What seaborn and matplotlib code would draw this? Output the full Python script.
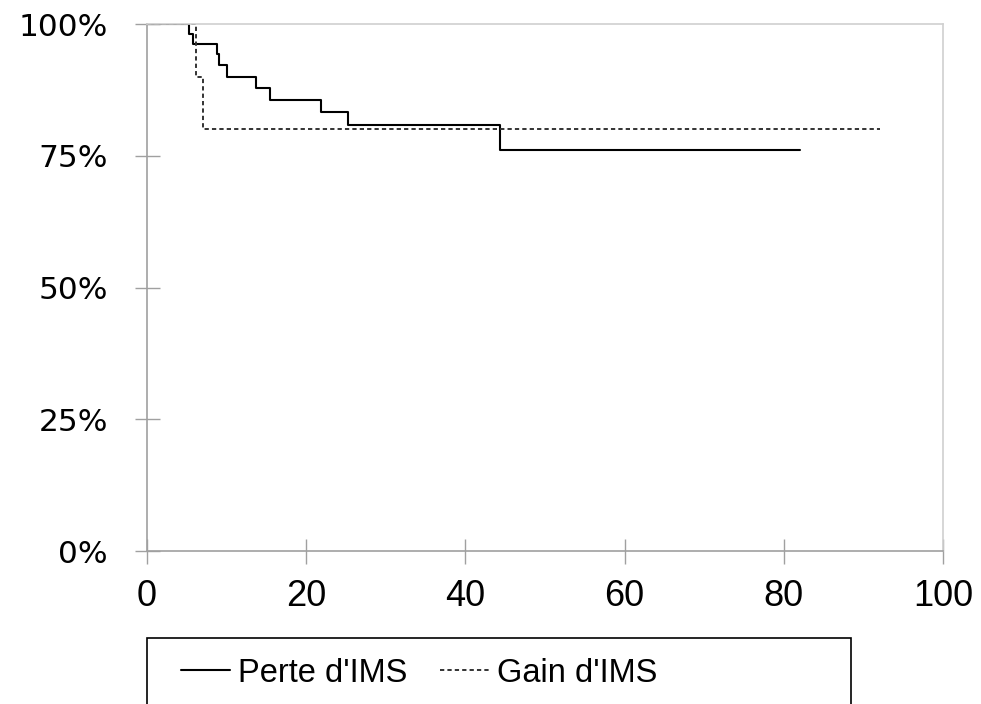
import numpy as np
import pandas as pd
import matplotlib
matplotlib.use("Agg")
import matplotlib.pyplot as plt
import seaborn as sns
from matplotlib.patches import Rectangle
from matplotlib.ticker import PercentFormatter

# Kaplan-Meier style curves
perte_time = [0, 5.3, 5.8, 8.75, 9.05, 10.0, 13.7, 15.45, 21.9, 25.3, 44.3, 82.0]
perte_surv = [100, 98.1, 96.2, 94.3, 92.3, 90.0, 87.9, 85.6, 83.3, 80.9, 76.1, 76.1]
gain_time = [0, 6.1, 7.1, 92.1]
gain_surv = [100, 90.0, 80.0, 80.0]
x_ticks = [0, 20, 40, 60, 80, 100]
y_ticks = [0, 25, 50, 75, 100]

sns.set_style("white")
plt.rcParams["font.family"] = ["DejaVu Sans"]
plt.rcParams["text.color"] = "black"

fig = plt.figure(figsize=(9.81, 7.04), dpi=100)
ax = fig.add_axes([0.1498, 0.2173, 0.8115, 0.7486])

perte = pd.DataFrame({"t": perte_time, "s": perte_surv})
gain = pd.DataFrame({"t": gain_time, "s": gain_surv})
sns.lineplot(data=perte, x="t", y="s", ax=ax, drawstyle="steps-post", color="black",
             linewidth=1.5, estimator=None, sort=False, label="Perte d'IMS")
sns.lineplot(data=gain, x="t", y="s", ax=ax, drawstyle="steps-post", color="#333333",
             linewidth=1.4, estimator=None, sort=False, dashes=(2.2, 1.6), label="Gain d'IMS")

ax.set_xlim(0, 100)
ax.set_ylim(0, 100)
ax.set_xticks(x_ticks)
ax.set_yticks(y_ticks)
ax.yaxis.set_major_formatter(PercentFormatter(decimals=0))
ax.set_xlabel("")
ax.set_ylabel("")

for side in ["left", "bottom"]:
    ax.spines[side].set_color("#a0a0a0")
    ax.spines[side].set_linewidth(1.2)
for side in ["top", "right"]:
    ax.spines[side].set_color("#d0d0d0")
    ax.spines[side].set_linewidth(1.2)
ax.tick_params(axis="both", bottom=True, left=True, direction="inout", length=18,
               width=1.0, color="#a0a0a0", labelcolor="black")
ax.tick_params(axis="y", labelsize=22.5, pad=19)
ax.tick_params(axis="x", labelsize=26, labelfontfamily="Liberation Sans", pad=11)

ax.get_legend().remove()
handles, labels = ax.get_legend_handles_labels()
fig.patches.append(Rectangle((0.1498, -0.01), 0.7177, 0.104, transform=fig.transFigure,
                             fill=False, edgecolor="black", linewidth=1.2))
leg = fig.legend(handles, labels, loc="center left", bbox_to_anchor=(0.1845, 0.044),
                 ncol=2, frameon=False, borderpad=0, borderaxespad=0, handlelength=1.5,
                 handletextpad=0.25, columnspacing=1.0, labelcolor="black",
                 prop={"family": ["Liberation Sans", "DejaVu Sans"], "size": 23.5})

fig.savefig("out.png", dpi=100)
